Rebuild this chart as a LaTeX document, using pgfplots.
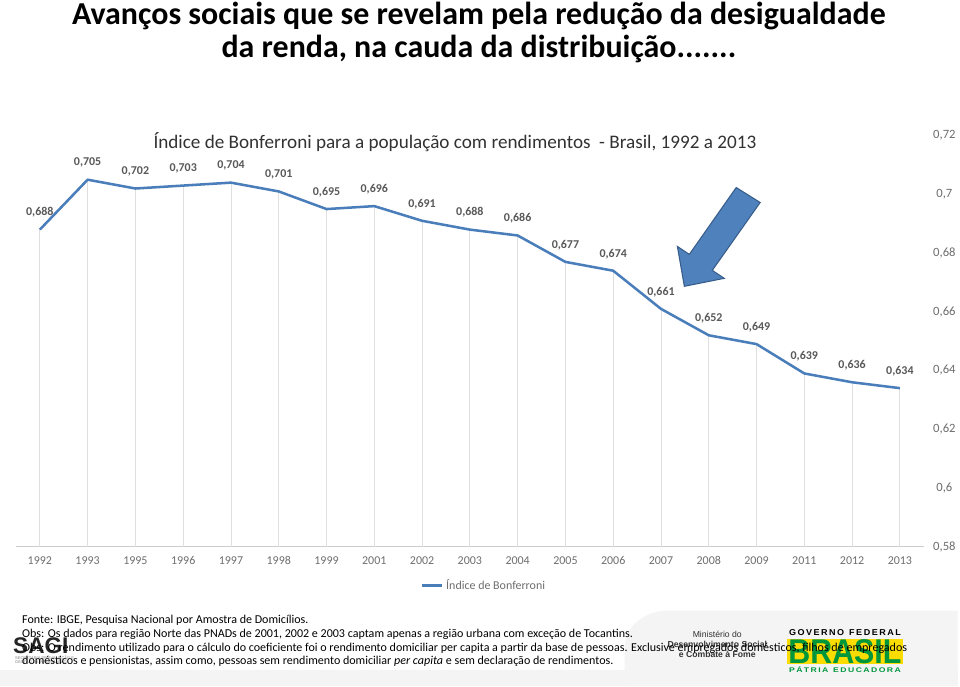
\documentclass[border=0pt]{standalone}
\usepackage{fontspec}
\setmainfont{Carlito}
\newfontfamily\arialfont{Liberation Sans}
\usepackage{pgfplots}
\pgfplotsset{compat=1.18}
\definecolor{lineblue}{RGB}{74,126,187}
\definecolor{arrowblue}{RGB}{79,129,189}
\definecolor{arrowedge}{RGB}{56,93,138}
\definecolor{lblgray}{RGB}{89,89,89}
\definecolor{tickgray}{RGB}{110,110,110}
\definecolor{subgray}{RGB}{50,50,50}
\definecolor{brgreen}{RGB}{0,150,60}
\definecolor{bryellow}{RGB}{250,220,0}
\begin{document}
\begin{tikzpicture}
\begin{scope}[x=0.75pt,y=-0.75pt,shift={(0pt,516pt)}]
\path[use as bounding box] (0,0) rectangle (960,688);
\fill[white] (0,0) rectangle (960,688);
% gray background shapes at bottom
\fill[gray!9] (0,672) rectangle (960,688);
\fill[gray!9] (960,612) -- (670,612) to[out=180,in=90] (626,650) -- (626,688) -- (960,688) -- cycle;

% titles
\node[font=\fontsize{24}{27}\selectfont\bfseries, anchor=center] at (480,16) {Avanços sociais que se revelam pela redução da desigualdade};
\node[font=\fontsize{24}{27}\selectfont\bfseries, anchor=center] at (480,49) {da renda, na cauda da distribuição.......};
\node[font=\fontsize{14.4}{16}\selectfont, text=subgray, anchor=center] at (456,142) {Índice de Bonferroni para a população com rendimentos\ \ - Brasil, 1992 a 2013};
\end{scope}

\begin{axis}[
  at={(12pt,105pt)}, anchor=south west,
  width=682.5pt, height=309pt, scale only axis,
  xmin=-0.5, xmax=18.5, ymin=0.58, ymax=0.72,
  xtick={0,...,18},
  xticklabels={1992,1993,1995,1996,1997,1998,1999,2001,2002,2003,2004,2005,2006,2007,2008,2009,2011,2012,2013},
  ytick={0.58,0.60,0.62,0.64,0.66,0.68,0.70,0.72},
  yticklabels={{0,58},{0,6},{0,62},{0,64},{0,66},{0,68},{0,7},{0,72}},
  axis x line*=bottom, axis y line*=right,
  y axis line style={draw=none},
  x axis line style={draw=gray!40, line width=0.6pt},
  major tick length=0pt,
  xticklabel style={font=\fontsize{9}{10}\selectfont, text=tickgray, anchor=center, yshift=-10.5pt},
  yticklabel style={font=\fontsize{9.5}{10}\selectfont, text=tickgray, anchor=center, xshift=15.5pt},
  legend style={at={(0.516,-0.0947)}, anchor=center, draw=none, fill=none, font=\fontsize{9}{10}\selectfont, text=tickgray, inner sep=1pt},
  legend image code/.code={\draw[lineblue, line width=1.9pt] (0pt,0pt) -- (15pt,0pt);},
  clip=true,
]
\addplot[ycomb, draw=gray!25, line width=0.6pt, no marks, forget plot] coordinates {
(0,0.688) (1,0.705) (2,0.702) (3,0.703) (4,0.704) (5,0.701) (6,0.695) (7,0.696) (8,0.691) (9,0.688)
(10,0.686) (11,0.677) (12,0.674) (13,0.661) (14,0.652) (15,0.649) (16,0.639) (17,0.636) (18,0.634)};
\addplot[lineblue, line width=1.9pt, line join=round, no marks,
  point meta=explicit symbolic,
  nodes near coords,
  nodes near coords style={font=\fontsize{9}{10}\selectfont\bfseries, text=lblgray, anchor=center, yshift=12.75pt},
] coordinates {
(0,0.688) [0,688] (1,0.705) [0,705] (2,0.702) [0,702] (3,0.703) [0,703] (4,0.704) [0,704]
(5,0.701) [0,701] (6,0.695) [0,695] (7,0.696) [0,696] (8,0.691) [0,691] (9,0.688) [0,688]
(10,0.686) [0,686] (11,0.677) [0,677] (12,0.674) [0,674] (13,0.661) [0,661] (14,0.652) [0,652]
(15,0.649) [0,649] (16,0.639) [0,639] (17,0.636) [0,636] (18,0.634) [0,634]};
\addlegendentry{Índice de Bonferroni}
\end{axis}

\begin{scope}[x=0.75pt,y=-0.75pt,shift={(0pt,516pt)}]
% arrow annotation
\filldraw[fill=arrowblue, draw=arrowedge, line width=0.8pt, line join=miter]
 (738,188) -- (762,203) -- (714,271) -- (726,279) -- (686,287) -- (679,247) -- (691,255) -- cycle;

% logos
\node[font=\arialfont\fontsize{17}{17}\selectfont\bfseries, text=black!85, anchor=west, inner sep=0pt] at (13,647) {SAGI};
\node[font=\arialfont\fontsize{3}{3.5}\selectfont, text=gray, anchor=north west, inner sep=0pt, align=left] at (15,657) {SECRETARIA DE AVALIAÇÃO E\\GESTÃO DA INFORMAÇÃO};
\node[font=\arialfont\fontsize{6.5}{7.5}\selectfont, text=black!80, anchor=center, align=center, inner sep=0pt] at (719,646) {Ministério do\\\textbf{Desenvolvimento Social}\\\textbf{e Combate à Fome}};
\node[anchor=center, inner sep=0pt] at (847,634) {\resizebox{84pt}{4.5pt}{\arialfont\bfseries G\,O\,V\,E\,R\,N\,O\ \ F\,E\,D\,E\,R\,A\,L}};
\fill[bryellow] (789,641) rectangle (905,666);
\node[anchor=center, inner sep=0pt] at (847,653.5) {\textcolor{brgreen}{\resizebox{85pt}{18pt}{\arialfont\bfseries BRASIL}}};
\node[anchor=center, inner sep=0pt] at (847,671) {\resizebox{84pt}{4.5pt}{\textcolor{brgreen}{\arialfont\bfseries P\,Á\,T\,R\,I\,A\ \ E\,D\,U\,C\,A\,D\,O\,R\,A}}};

% footnotes
\begin{scope}[every node/.style={font=\fontsize{9.05}{10}\selectfont, anchor=west, inner sep=0pt, text=black}]
\node at (22,622) {Fonte: IBGE, Pesquisa Nacional por Amostra de Domicílios.};
\node at (22,636) {Obs: Os dados para região Norte das PNADs de 2001, 2002 e 2003 captam apenas a região urbana com exceção de Tocantins.};
\node at (22,649.5) {Obs: O rendimento utilizado para o cálculo do coeficiente foi o rendimento domiciliar per capita a partir da base de pessoas. Exclusive empregados domésticos, filhos de empregados};
\node at (22,663) {domésticos e pensionistas, assim como, pessoas sem rendimento domiciliar \textit{per capita} e sem declaração de rendimentos.};
\end{scope}
\end{scope}
\end{tikzpicture}
\end{document}
